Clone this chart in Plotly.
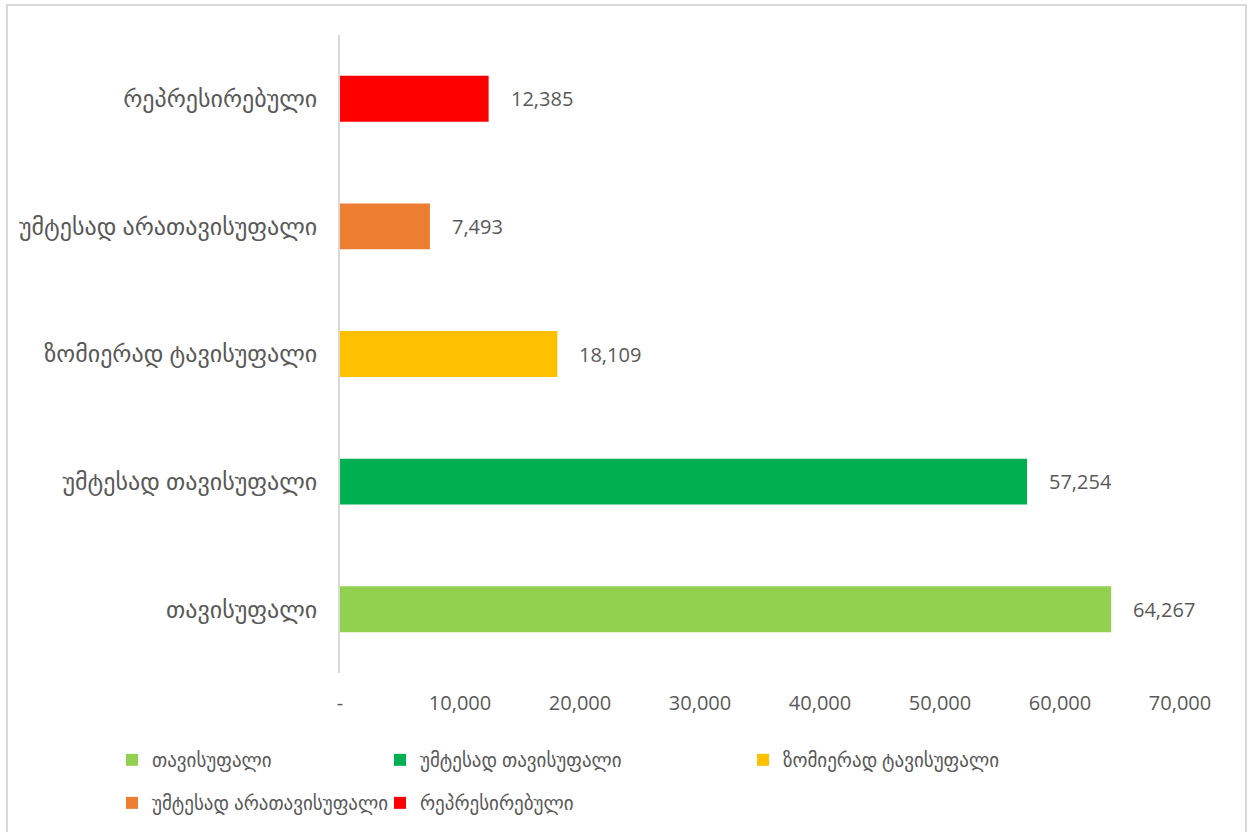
import plotly.graph_objects as go

categories = ["თავისუფალი", "უმტესად თავისუფალი", "ზომიერად ტავისუფალი",
              "უმტესად არათავისუფალი", "რეპრესირებული"]
values = [64267, 57254, 18109, 7493, 12385]
colors = ["#92D050", "#00B050", "#FFC000", "#ED7D31", "#FF0000"]
tick_vals = [0, 10000, 20000, 30000, 40000, 50000, 60000, 70000]
tick_text = ["-", "10,000", "20,000", "30,000", "40,000", "50,000", "60,000", "70,000"]

W, H = 1254, 832
L, R, T, B = 340, 74, 35, 159
FONT = "Open Sans, DejaVu Sans, sans-serif"
GREY = "#595959"

# legend entry positions (container px): text-start x, row center y
legend_pos = [(150, 760), (418, 760), (781, 760), (150, 803), (418, 803)]

fig = go.Figure()
for i, (c, v, col) in enumerate(zip(categories, values, colors)):
    lname = "legend" if i == 0 else f"legend{i+1}"
    fig.add_trace(go.Bar(
        y=[c], x=[v], orientation="h", name=c,
        marker=dict(color=col, line=dict(width=0)),
        width=0.36, legend=lname, hoverinfo="x+y",
    ))
    fig.add_annotation(x=v, y=c, xref="x", yref="y", text=f"{v:,}",
                       showarrow=False, xanchor="left", yanchor="middle",
                       xshift=20, font=dict(family=FONT, size=20, color=GREY))

layout_legends = {}
for i, (tx, ty) in enumerate(legend_pos):
    lname = "legend" if i == 0 else f"legend{i+1}"
    layout_legends[lname] = dict(
        x=(tx - 38) / W, y=1 - ty / H, xref="container", yref="container",
        xanchor="left", yanchor="middle", orientation="h",
        font=dict(family=FONT, size=19, color=GREY),
        bgcolor="rgba(0,0,0,0)", borderwidth=0,
    )

pw, ph = W - L - R, H - T - B
def px_x(p):
    return (p - L) / pw
def px_y(p):
    return (H - B - p) / ph

fig.update_layout(
    width=W, height=H,
    margin=dict(l=L, r=R, t=T, b=B, autoexpand=False),
    paper_bgcolor="white", plot_bgcolor="white",
    barmode="overlay", showlegend=True,
    font=dict(family=FONT, size=20, color=GREY),
    xaxis=dict(range=[0, 70000], tickvals=tick_vals, ticktext=tick_text,
               showgrid=False, zeroline=False, showline=False,
               ticks="outside", ticklen=12, tickcolor="rgba(0,0,0,0)",
               tickfont=dict(family=FONT, size=20, color=GREY), fixedrange=True),
    yaxis=dict(categoryorder="array", categoryarray=categories,
               showgrid=False, zeroline=False, showline=True,
               linecolor="#D9D9D9", linewidth=2,
               ticks="outside", ticklen=16, tickcolor="rgba(0,0,0,0)",
               tickfont=dict(family=FONT, size=24, color=GREY), fixedrange=True),
    shapes=[dict(type="rect", xref="paper", yref="paper",
                 x0=px_x(7), x1=px_x(1246), y0=px_y(845), y1=px_y(5),
                 line=dict(color="#D9D9D9", width=2), fillcolor="rgba(0,0,0,0)",
                 layer="below")],
    **layout_legends,
)

fig.write_html("out.html", config={"displayModeBar": False},
               post_script="document.body.style.margin='0px';")
